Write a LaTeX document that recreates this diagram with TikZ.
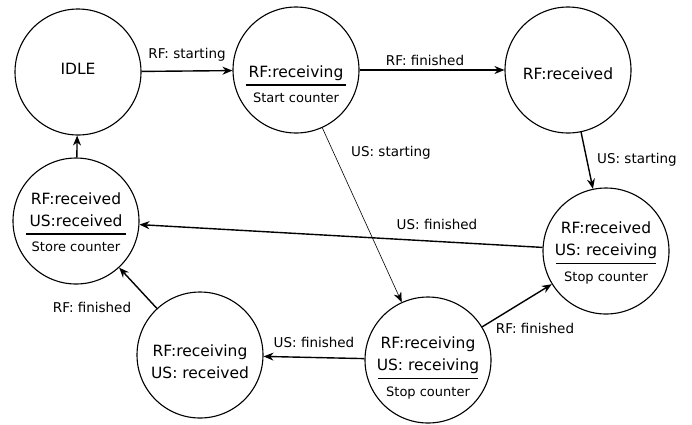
\documentclass[tikz,border=0pt]{standalone}
\usepackage{fontspec}
\setmainfont{DejaVu Sans}
\usetikzlibrary{arrows.meta}

\newcommand{\divline}{\rule{100pt}{1.2pt}}
\newcommand{\smalltxt}[1]{{\fontsize{13}{16}\selectfont #1}}

\begin{document}
\begin{tikzpicture}[x=1pt,y=-1pt,
  font=\fontsize{15.5}{22}\selectfont,
  state/.style={draw,circle,minimum size=126pt,inner sep=0pt,line width=1.1pt},
  statetext/.style={align=center,inner sep=0pt},
  lbl/.style={font=\fontsize{13.5}{16}\selectfont,inner sep=0pt},
  trans/.style={-{Stealth[length=10pt,width=8pt]},line width=1.4pt}]
  \useasboundingbox (0,0) rectangle (692,424);

  % States
  \node[state] (idle) at (78,72) {};
  \node[state] (rfrx) at (296,70) {};
  \node[state] (rfdone) at (568,70) {};
  \node[state] (store) at (76,221) {};
  \node[state] (usrx) at (606,251) {};
  \node[state] (both) at (428,360) {};
  \node[state] (usdone) at (200,355) {};

  % State texts
  \node[statetext] (idletxt) at (78,69) {IDLE};
  \node[statetext] (rfrxtxt) at (296,84) {RF:receiving\\[-13.4pt]\divline\\[-5.1pt]\smalltxt{Start counter}};
  \node[statetext] (rfdonetxt) at (568,74) {RF:received};
  \node[statetext] (storetxt) at (76,222) {RF:received\\US:received\\[-13.4pt]\divline\\[-5.1pt]\smalltxt{Store counter}};
  \node[statetext] (usrxtxt) at (606,253) {RF:received\\US: receiving\\[-13.4pt]\divline\\[-5.1pt]\smalltxt{Stop counter}};
  \node[statetext] (bothtxt) at (428,368) {RF:receiving\\US: receiving\\[-13.4pt]\divline\\[-5.1pt]\smalltxt{Stop counter}};
  \node[statetext] (usdonetxt) at (200,362) {RF:receiving\\US: received};

  % Transition labels
  \node[lbl] (l1) at (187,55) {RF: starting};
  \node[lbl] (l2) at (425,60) {RF: finished};
  \node[lbl] (l3) at (637,160) {US: starting};
  \node[lbl] (l4) at (391,153) {US: starting};
  \node[lbl] (l5) at (437,224) {US: finished};
  \node[lbl] (l6) at (535,328) {RF: finished};
  \node[lbl] (l7) at (314,342) {US: finished};
  \node[lbl] (l8) at (92,307) {RF: finished};

  % Transitions
  \draw[trans] (idle)--(rfrx);
  \draw[trans] (rfrx)--(rfdone);
  \draw[trans] (rfdone)--(usrx);
  \draw[trans,line width=0.6pt] (rfrx)--(both);
  \draw[trans] (usrx)--(store);
  \draw[trans] (both)--(usrx);
  \draw[trans] (both)--(usdone);
  \draw[trans] (usdone)--(store);
  \draw[trans] (store)--(idle);
\end{tikzpicture}
\end{document}
